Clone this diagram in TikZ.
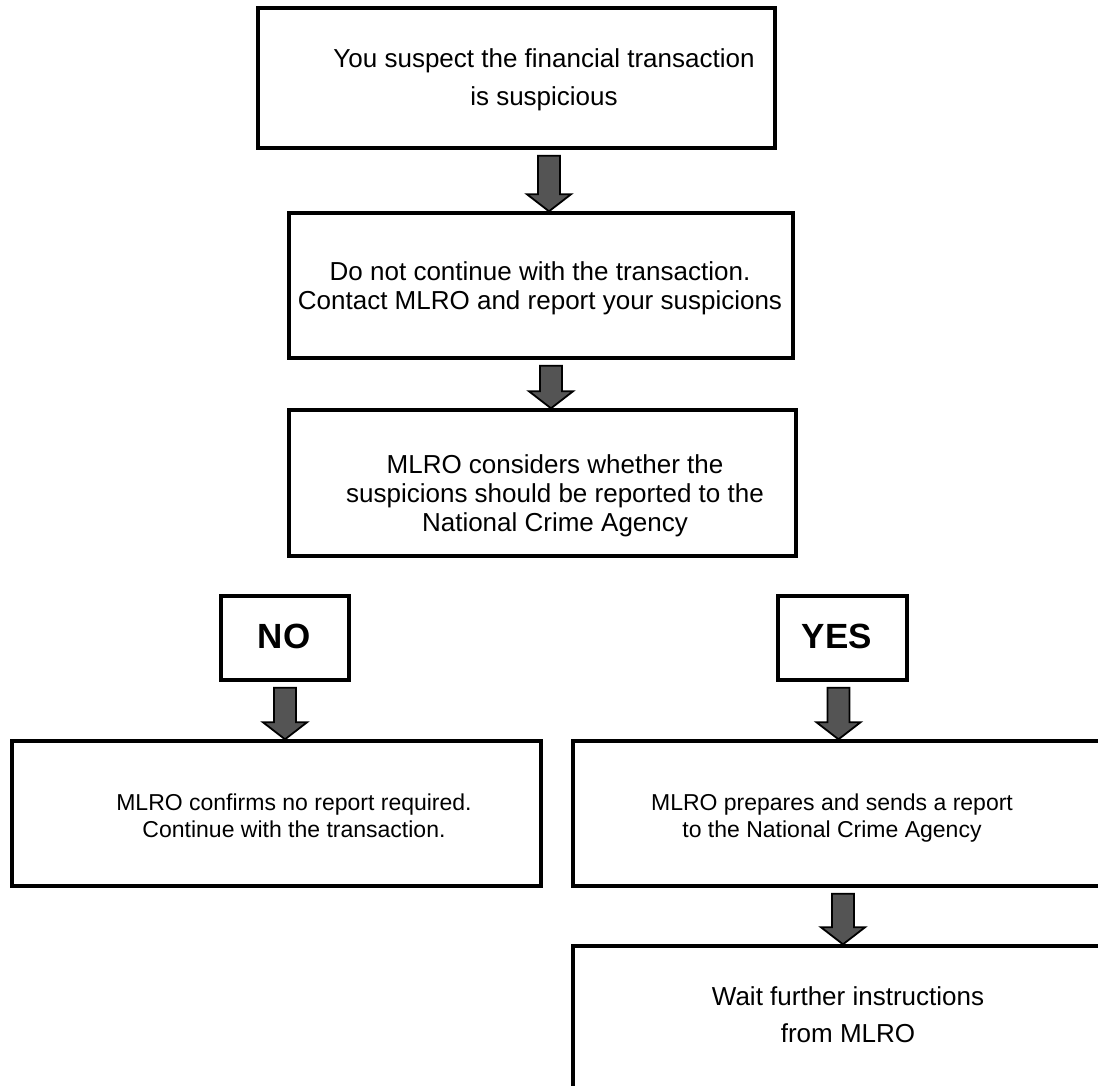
\documentclass[tikz,border=0pt]{standalone}
\usepackage{fontspec}
\setmainfont{Liberation Sans}
\usetikzlibrary{calc}

\tikzset{
  stepbox/.style={draw, line width=1.7pt, fill=white, inner sep=0pt},
  steptext/.style={align=center, anchor=base, inner sep=0pt, font=\fontsize{13}{14.5}\selectfont},
  smalltext/.style={align=center, anchor=base, inner sep=0pt, font=\fontsize{11.5}{13.5}\selectfont},
  answer/.style={anchor=base, inner sep=0pt, font=\bfseries\fontsize{17.5}{21}\selectfont},
  blockarrow/.style={draw=black, line width=0.9pt, fill=black!67, line join=miter}
}

\begin{document}
\begin{tikzpicture}[x=0.5pt, y=-0.5pt]
    \useasboundingbox (0,0) rectangle (1098,1086);
    \clip (0,0) rectangle (1098,1086);
    % boxes
    \node[stepbox, minimum width=258.5pt, minimum height=70pt] (suspect) at (516.5,78) {};
    \node[stepbox, minimum width=252pt, minimum height=72.5pt] (stop) at (541,285.5) {};
    \node[stepbox, minimum width=253.5pt, minimum height=73pt] (consider) at (542.5,483) {};
    \node[stepbox, minimum width=64pt, minimum height=42pt] (no) at (285,638) {};
    \node[stepbox, minimum width=64.5pt, minimum height=42pt] (yes) at (842.5,638) {};
    \node[stepbox, minimum width=264.5pt, minimum height=72.5pt] (noreport) at (276.5,813.5) {};
    \node[stepbox, minimum width=271pt, minimum height=72.5pt] (report) at (844,813.5) {};
    \node[stepbox, minimum width=271pt, minimum height=82pt] (wait) at (844,1028) {};
    % texts (placed at the baseline of their last line)
    \node[steptext, font=\fontsize{13}{19}\selectfont] (suspect-t) at (544,106)
      {You suspect the financial transaction\\is suspicious};
    \node[steptext] (stop-t) at (540,309)
      {Do not continue with the transaction.\\Contact MLRO and report your suspicions};
    \node[steptext] (consider-t) at (555,531)
      {MLRO considers whether the\\suspicions should be reported to the\\National Crime Agency};
    \node[answer] (no-t) at (284,648) {NO};
    \node[answer] (yes-t) at (837,648) {YES};
    \node[smalltext] (noreport-t) at (294,837)
      {MLRO confirms no report required.\\Continue with the transaction.};
    \node[smalltext] (report-t) at (832,837)
      {MLRO prepares and sends a report\\to the National Crime Agency};
    \node[steptext, font=\fontsize{13}{18.5}\selectfont] (wait-t) at (848,1042)
      {Wait further instructions\\from MLRO};
    % block arrows between the boxes
    \foreach \from/\to/\ax in {suspect/stop/549, stop/consider/551, no/noreport/285,
        yes/report/838.5, report/wait/843}{
      \draw[blockarrow] let \p1=(\from.south), \p2=(\to.north), \n1={\ax*0.5pt} in
        (\n1-5.5pt,\y1-3pt) -- (\n1+5.5pt,\y1-3pt) -- (\n1+5.5pt,\y2+8.5pt)
        -- (\n1+11pt,\y2+8.5pt) -- (\n1,\y2) -- (\n1-11pt,\y2+8.5pt)
        -- (\n1-5.5pt,\y2+8.5pt) -- cycle;
    }
\end{tikzpicture}
\end{document}
